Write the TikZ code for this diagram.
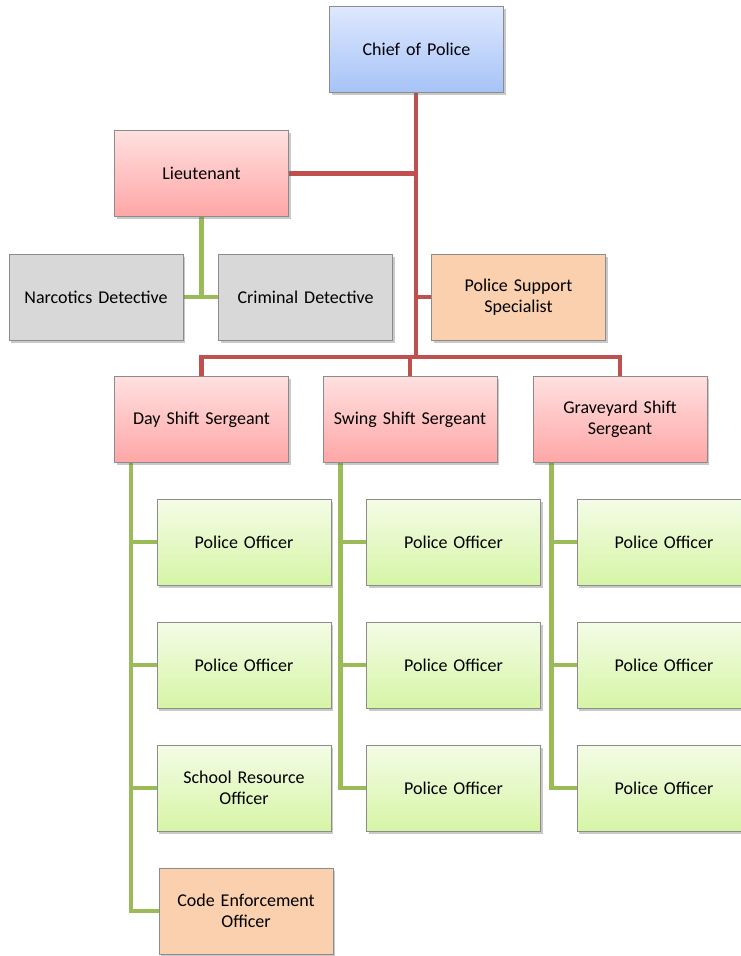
\documentclass[tikz,border=0pt]{standalone}
\usepackage{fontspec}
\setmainfont{Carlito}
\usetikzlibrary{shadows,backgrounds}
\definecolor{redln}{HTML}{C0504D}
\definecolor{greenln}{HTML}{9BBB59}
\definecolor{boxedge}{HTML}{8C8C8C}
\tikzset{
  box/.style={draw=boxedge, line width=0.9pt, minimum width=174pt, minimum height=86pt,
    inner sep=2pt, align=center, text width=168pt,
    font=\fontsize{18}{21}\selectfont,
    drop shadow={shadow xshift=2pt, shadow yshift=-2.5pt, opacity=0.35, fill=black!60}},
  bluebox/.style={box, top color={rgb,255:red,222;green,232;blue,255}, bottom color={rgb,255:red,166;green,195;blue,247}},
  redbox/.style={box, top color={rgb,255:red,255;green,224;blue,224}, bottom color={rgb,255:red,255;green,166;blue,166}},
  greenbox/.style={box, top color={rgb,255:red,244;green,252;blue,230}, bottom color={rgb,255:red,214;green,245;blue,166}},
  graybox/.style={box, fill={rgb,255:red,216;green,216;blue,216}},
  orangebox/.style={box, fill={rgb,255:red,250;green,208;blue,174}},
  redline/.style={draw=redln, line width=4.2pt},
  greenline/.style={draw=greenln, line width=4.2pt},
}
\begin{document}
\begin{tikzpicture}[x=1pt,y=-1pt]
\useasboundingbox (0,0) rectangle (741,956);
\clip (0,0) rectangle (741,956);
% top levels
\node[bluebox] (chief) at (416.5,49.5) {Chief of Police};
\node[redbox] (lt) at (201.5,173.5) {Lieutenant};
\node[graybox] (narc) at (96,297) {Narcotics Detective};
\node[graybox] (crim) at (305.5,297) {Criminal Detective};
\node[orangebox] (pss) at (518.5,297) {Police Support\\Specialist};
% sergeants
\node[redbox] (day) at (201.5,419.5) {Day Shift Sergeant};
\node[redbox] (swing) at (410,419.5) {Swing Shift Sergeant};
\node[redbox] (grave) at (620,419.5) {Graveyard Shift\\Sergeant};
% day column
\node[greenbox] (d1) at (244,542) {Police Officer};
\node[greenbox] (d2) at (244,665) {Police Officer};
\node[greenbox] (d3) at (244,788) {School Resource\\Officer};
\node[orangebox] (d4) at (246,911) {Code Enforcement\\Officer};
% swing column
\node[greenbox] (s1) at (453.5,542) {Police Officer};
\node[greenbox] (s2) at (453.5,665) {Police Officer};
\node[greenbox] (s3) at (453.5,788) {Police Officer};
% graveyard column
\node[greenbox] (g1) at (664,542) {Police Officer};
\node[greenbox] (g2) at (664,665) {Police Officer};
\node[greenbox] (g3) at (664,788) {Police Officer};
\coordinate (j) at (416,357);
\begin{scope}[on background layer]
  \fill[white] (0,0) rectangle (741,956);
  \draw[redline] (chief.south -| j) -- (j);
  \draw[redline] (lt.east) -- (lt.east -| j);
  \draw[redline] (pss.west) -- (pss.west -| j);
  \draw[redline] (day.north) |- (j) -| (grave.north);
  \draw[redline] (swing.north) -- (swing.north |- j);
  \draw[greenline] (lt.south) -- (lt.south |- narc.east);
  \draw[greenline] (narc.east) -- (crim.west);
  % day
  \coordinate (dv) at ([xshift=17pt]day.south west);
  \draw[greenline] (dv) |- (d4.west);
  \draw[greenline] (d1.west) -- (d1.west -| dv);
  \draw[greenline] (d2.west) -- (d2.west -| dv);
  \draw[greenline] (d3.west) -- (d3.west -| dv);
  % swing
  \coordinate (sv) at ([xshift=18pt]swing.south west);
  \draw[greenline] (sv) |- (s3.west);
  \draw[greenline] (s1.west) -- (s1.west -| sv);
  \draw[greenline] (s2.west) -- (s2.west -| sv);
  % graveyard
  \coordinate (gv) at ([xshift=19pt]grave.south west);
  \draw[greenline] (gv) |- (g3.west);
  \draw[greenline] (g1.west) -- (g1.west -| gv);
  \draw[greenline] (g2.west) -- (g2.west -| gv);
\end{scope}
\end{tikzpicture}
\end{document}
